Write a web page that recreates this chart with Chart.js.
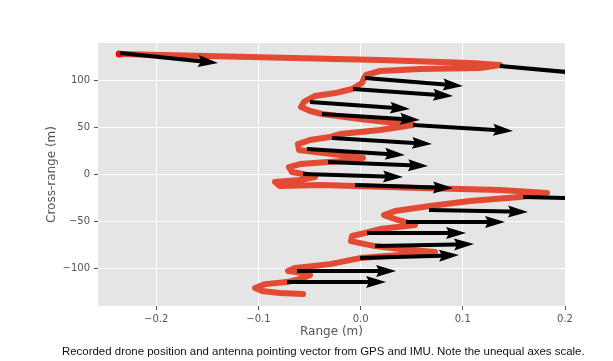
<!DOCTYPE html>
<html>
<head>
<meta charset="utf-8">
<script src="https://cdn.jsdelivr.net/npm/chart.js@4/dist/chart.umd.min.js"></script>
<style>
  html, body { margin: 0; padding: 0; background: #ffffff; }
  #wrap { position: relative; width: 613px; height: 361px; overflow: hidden; }
  #c { position: absolute; left: 0; top: 0; }
  #caption { position: absolute; left: 62px; top: 345px; font-family: "Liberation Sans", Arial, sans-serif; font-size: 11.45px; line-height: 13px; color: #111; white-space: nowrap; }
</style>
</head>
<body>
<div id="wrap">
  <canvas id="c" width="613" height="361"></canvas>
  <div id="caption">Recorded drone position and antenna pointing vector from GPS and IMU. Note the unequal axes scale.</div>
</div>
<script>
// Drone track (range m, cross-range m)
const pathRange = [-0.2363,-0.1082,0.0190,0.1071,0.1364,0.1168,0.0581,0.0190,0.0053,0.0033,0.0014,-0.0084,-0.0250,-0.0446,-0.0554,-0.0583,-0.0495,-0.0378,-0.0006,0.0513,0.0190,-0.0202,-0.0299,-0.0495,-0.0613,-0.0603,-0.0525,-0.0202,0.0023,-0.0153,-0.0319,-0.0593,-0.0701,-0.0671,-0.0564,-0.0446,-0.0593,-0.0838,-0.0789,-0.0397,-0.0055,0.0581,0.1364,0.1824,0.1560,0.1071,0.0679,0.0337,0.0229,0.0337,0.0444,0.0532,0.0190,0.0043,-0.0084,-0.0094,0.0043,0.0141,0.0386,0.0728,0.0386,-0.0006,-0.0299,-0.0642,-0.0710,-0.0622,-0.0495,-0.0593,-0.0720,-0.0935,-0.1033,-0.0965,-0.0789,-0.0564];
const pathCross = [128.3,125.1,121.9,118.7,116.6,113.3,112.3,110.2,106.0,102.7,97.4,91.0,86.7,83.6,77.2,71.8,67.6,64.4,59.1,52.7,47.3,43.1,39.9,36.7,32.4,26.1,25.0,20.7,17.5,14.3,13.3,11.1,7.9,2.6,0.5,-2.7,-5.9,-8.0,-12.3,-11.2,-12.3,-14.4,-16.6,-19.7,-24.0,-28.3,-33.6,-38.9,-43.2,-47.4,-50.6,-53.8,-58.1,-62.3,-65.5,-70.9,-74.1,-76.2,-79.4,-82.6,-85.8,-89.0,-95.4,-99.6,-102.8,-103.9,-107.1,-111.3,-114.5,-116.7,-120.9,-124.1,-126.2,-127.3];

// Antenna pointing vectors: tail position and components (data units)
const arrowRange = [-0.2354,0.1364,0.0043,-0.0074,-0.0495,-0.0378,0.0513,-0.0280,-0.0525,-0.0319,-0.0564,-0.0055,0.1589,0.0669,0.0444,0.0063,0.0141,-0.0006,-0.0622,-0.0720];
const arrowCross = [129.3,115.5,102.7,91.0,77.2,64.4,52.7,38.8,27.1,13.3,0.5,-11.2,-24.0,-37.8,-50.6,-62.3,-76.2,-89.0,-102.8,-114.5];
const arrowU = [0.0959,0.0979,0.0959,0.0979,0.0979,0.0959,0.0979,0.0979,0.0959,0.0979,0.0979,0.0959,0.0969,0.0969,0.0969,0.0969,0.0969,0.0969,0.0969,0.0969];
const arrowV = [-10.6,-9.6,-8.5,-7.5,-7.5,-6.4,-6.4,-6.4,-6.4,-4.3,-3.2,-3.2,-2.1,-2.1,0,0,2.1,3.2,0,0];

const xTicks = [-0.2, -0.1, 0.0, 0.1, 0.2];
const xTickLabels = ['\u22120.2', '\u22120.1', '0.0', '0.1', '0.2'];
const yTicks = [-100, -50, 0, 50, 100];
const yTickLabels = ['\u2212100', '\u221250', '0', '50', '100'];

const pathData = pathRange.map((x, i) => ({x: x, y: pathCross[i]}));
const startData = [{x: pathRange[0], y: pathCross[0]}];

const bgPlugin = {
  id: 'bg',
  beforeDraw(chart) {
    const {ctx, chartArea: a} = chart;
    ctx.save();
    ctx.fillStyle = '#E5E5E5';
    ctx.fillRect(a.left, a.top, a.right - a.left, a.bottom - a.top);
    ctx.restore();
  }
};

const quiverPlugin = {
  id: 'quiver',
  afterDatasetsDraw(chart) {
    const {ctx, chartArea: a, scales} = chart;
    const sx = scales.x, sy = scales.y;
    const w = 4, hl = 20, ha = 18, hw = 6;
    ctx.save();
    ctx.beginPath();
    ctx.rect(a.left, a.top, a.right - a.left, a.bottom - a.top);
    ctx.clip();
    ctx.fillStyle = '#000000';
    for (let i = 0; i < arrowRange.length; i++) {
      const x0 = sx.getPixelForValue(arrowRange[i]);
      const y0 = sy.getPixelForValue(arrowCross[i]);
      const x1 = sx.getPixelForValue(arrowRange[i] + arrowU[i]);
      const y1 = sy.getPixelForValue(arrowCross[i] + arrowV[i]);
      const L = Math.hypot(x1 - x0, y1 - y0);
      const ang = Math.atan2(y1 - y0, x1 - x0);
      ctx.save();
      ctx.translate(x0, y0);
      ctx.rotate(ang);
      ctx.beginPath();
      ctx.moveTo(0, -w / 2);
      ctx.lineTo(L - ha, -w / 2);
      ctx.lineTo(L - hl, -hw);
      ctx.lineTo(L, 0);
      ctx.lineTo(L - hl, hw);
      ctx.lineTo(L - ha, w / 2);
      ctx.lineTo(0, w / 2);
      ctx.closePath();
      ctx.fill();
      ctx.restore();
    }
    ctx.restore();
  }
};

const tickFont = {family: '"DejaVu Sans", sans-serif', size: 10};
const titleFont = {family: '"DejaVu Sans", sans-serif', size: 12};

new Chart(document.getElementById('c'), {
  type: 'scatter',
  data: {
    datasets: [
      {
        data: startData,
        pointRadius: 3.5,
        pointBackgroundColor: '#FF0000',
        pointBorderWidth: 0,
        showLine: false
      },
      {
        data: pathData,
        showLine: true,
        borderColor: '#E24A33',
        borderWidth: 6,
        borderJoinStyle: 'round',
        borderCapStyle: 'round',
        pointRadius: 0,
        tension: 0
      }
    ]
  },
  options: {
    responsive: false,
    animation: false,
    devicePixelRatio: 1,
    layout: {padding: {left: 40, right: 48, top: 43, bottom: 21}},
    plugins: {legend: {display: false}, tooltip: {enabled: false}},
    scales: {
      x: {
        type: 'linear',
        min: -0.257,
        max: 0.2,
        afterBuildTicks: s => { s.ticks = xTicks.map(v => ({value: v})); },
        afterFit: s => { s.height = 34; },
        ticks: {
          font: tickFont, color: '#555555', padding: 3,
          callback: (v, i) => xTickLabels[i]
        },
        grid: {color: '#FFFFFF', lineWidth: 1, drawTicks: true, tickLength: 4, tickColor: '#555555', tickWidth: 1},
        border: {display: false},
        title: {display: true, text: 'Range (m)', font: titleFont, color: '#555555', padding: {top: 0, bottom: 1}}
      },
      y: {
        type: 'linear',
        min: -140,
        max: 140,
        afterBuildTicks: s => { s.ticks = yTicks.map(v => ({value: v})); },
        afterFit: s => { s.width = 58; },
        ticks: {
          font: tickFont, color: '#555555', padding: 4,
          callback: (v, i) => yTickLabels[i]
        },
        grid: {color: '#FFFFFF', lineWidth: 1, drawTicks: true, tickLength: 4, tickColor: '#555555', tickWidth: 1},
        border: {display: false},
        title: {display: true, text: 'Cross-range (m)', font: titleFont, color: '#555555', padding: {top: 5, bottom: 0}}
      }
    }
  },
  plugins: [bgPlugin, quiverPlugin]
});
</script>
</body>
</html>
